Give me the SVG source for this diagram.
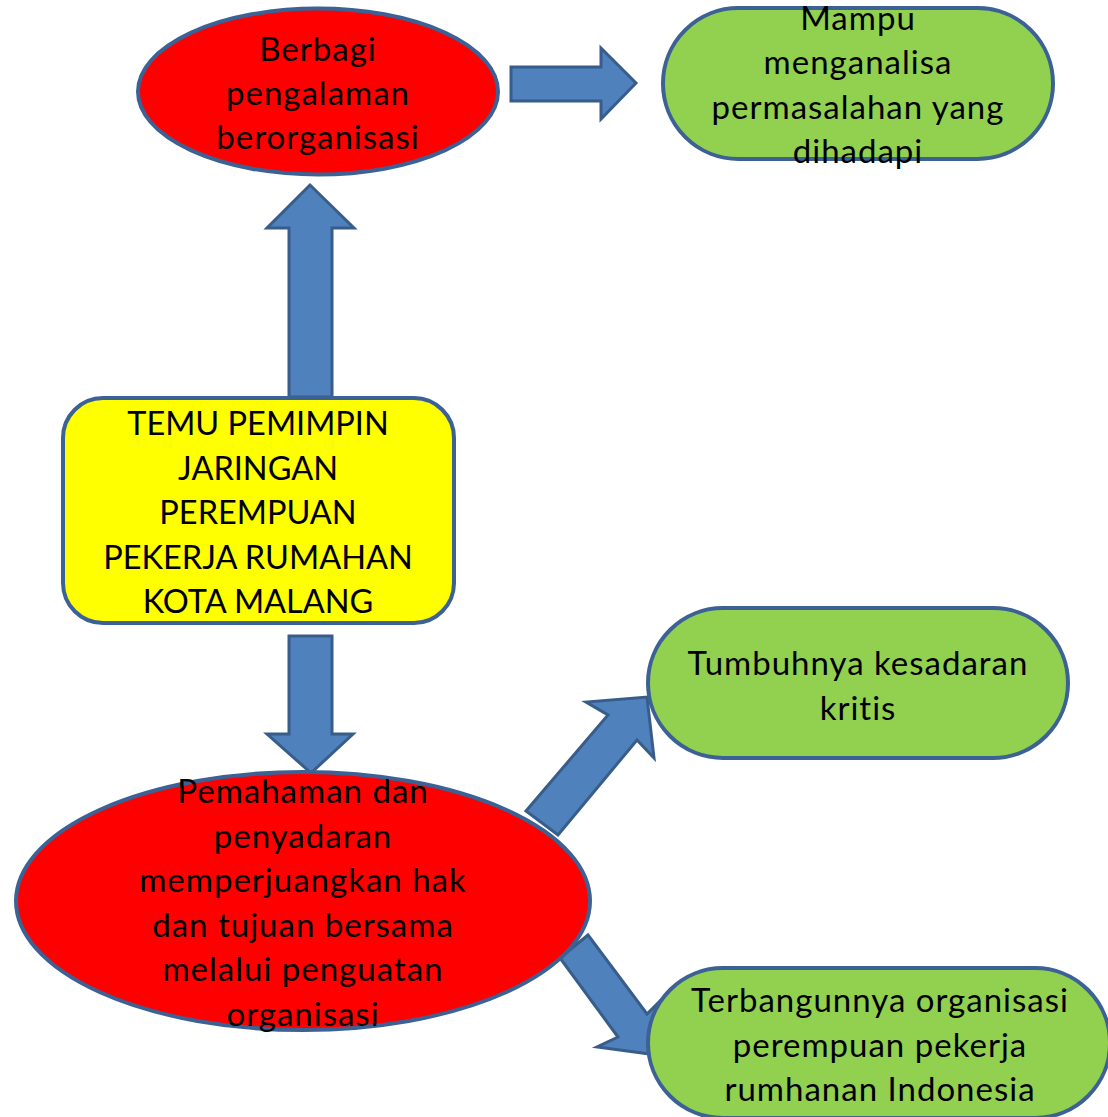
<svg xmlns="http://www.w3.org/2000/svg" width="1108" height="1117" viewBox="0 0 1108 1117">
<style>
.arrow{fill:#4F81BD;stroke:#385D8A;stroke-width:3;stroke-linejoin:miter}
.red{fill:#FF0000;stroke:#3B6195;stroke-width:4}
.green{fill:#92D050;stroke:#3B6195;stroke-width:4}
.yellow{fill:#FFFF00;stroke:#3B6195;stroke-width:4}
text{font-family:Lato,"Liberation Sans",sans-serif;font-size:33px;letter-spacing:1px;font-variant-ligatures:none;fill:#000;text-anchor:middle}
text.caps{letter-spacing:0;font-size:32.5px}
</style>
<rect width="1108" height="1117" fill="#FFFFFF"/>
<g id="connectors">
<polygon class="arrow" points="511,67 601,67 601,48 636,83 601,119 601,101 511,101"/>
<polygon class="arrow" points="289,397 289,228 267,228 310,185 354,228 332,228 332,397"/>
<polygon class="arrow" points="289,636 332,636 332,734 353,734 311,773 267,734 289,734"/>
<polygon class="arrow" points="526,811 608,715 586,702 647,697 654,758 637,740 558,835"/>
<polygon class="arrow" points="588,935 647,1014 659,1002 657,1055 597,1047 618,1037 560,958"/>
</g>
<g id="node-berbagi">
<ellipse class="red" cx="318" cy="91.5" rx="180" ry="83"/>
<text x="318" y="61">Berbagi</text>
<text x="318" y="105">pengalaman</text>
<text x="318" y="149">berorganisasi</text>
</g>
<g id="node-mampu">
<rect class="green" x="663" y="8" width="390" height="151" rx="75.5"/>
<text x="858" y="30">Mampu</text>
<text x="858" y="74">menganalisa</text>
<text x="858" y="118.5">permasalahan yang</text>
<text x="858" y="163">dihadapi</text>
</g>
<g id="node-temu">
<rect class="yellow" x="63" y="398" width="391" height="225" rx="40"/>
<text class="caps" x="258" y="435">TEMU PEMIMPIN</text>
<text class="caps" x="258" y="479.5">JARINGAN</text>
<text class="caps" x="258" y="524">PEREMPUAN</text>
<text class="caps" x="258" y="568.5">PEKERJA RUMAHAN</text>
<text class="caps" x="258" y="613">KOTA MALANG</text>
</g>
<g id="node-pemahaman">
<ellipse class="red" cx="303" cy="901" rx="287" ry="129"/>
<text x="303" y="803">Pemahaman dan</text>
<text x="303" y="847.5">penyadaran</text>
<text x="303" y="892">memperjuangkan hak</text>
<text x="303" y="936.5">dan tujuan bersama</text>
<text x="303" y="981">melalui penguatan</text>
<text x="303" y="1025.5">organisasi</text>
</g>
<g id="node-tumbuhnya">
<rect class="green" x="648" y="608" width="420" height="150" rx="75"/>
<text x="858" y="675">Tumbuhnya kesadaran</text>
<text x="858" y="720">kritis</text>
</g>
<g id="node-terbangunnya">
<rect class="green" x="648" y="968" width="462" height="150" rx="75"/>
<text x="880" y="1012">Terbangunnya organisasi</text>
<text x="880" y="1057">perempuan pekerja</text>
<text x="880" y="1101">rumhanan Indonesia</text>
</g>
</svg>
